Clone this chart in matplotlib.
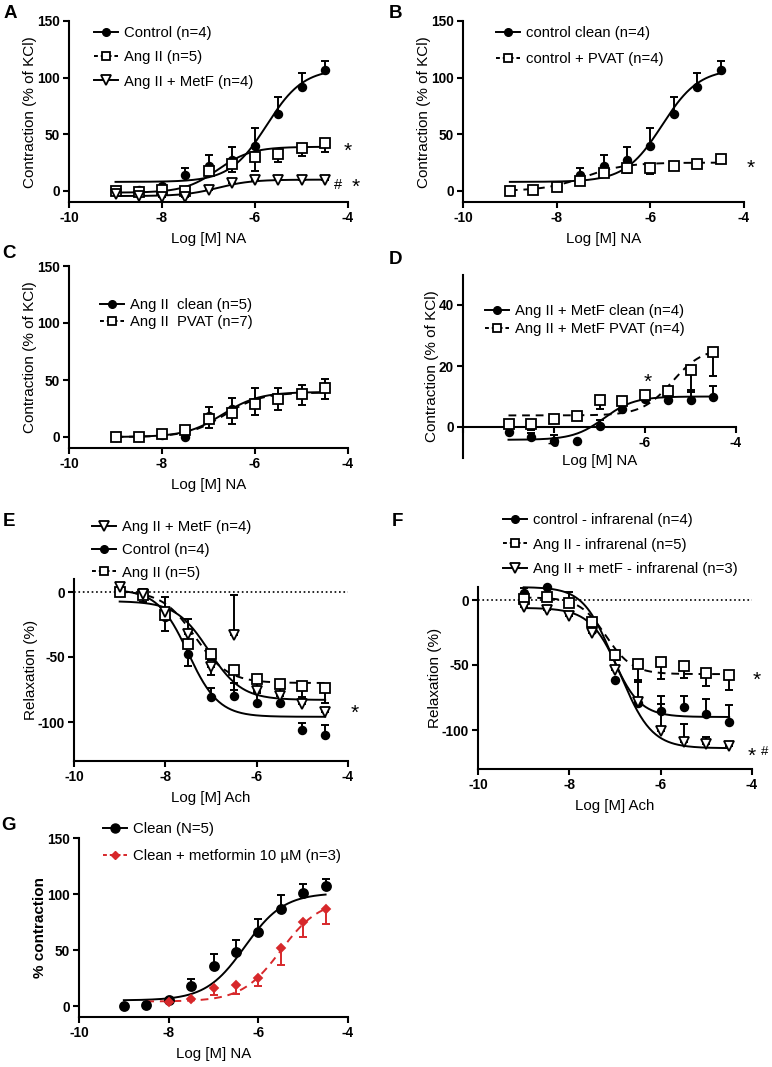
import numpy as np
import matplotlib.pyplot as plt
from matplotlib.lines import Line2D

plt.rcParams['font.family'] = ['Liberation Sans', 'DejaVu Sans']
plt.rcParams['axes.unicode_minus'] = False

# log concentrations used in every panel
logx = [-9, -8.5, -8, -7.5, -7, -6.5, -6, -5.5, -5, -4.5]

# A / B: NA contraction, control clean
ctrl = [0, 0.5, 4, 14, 22, 27, 40, 68, 92, 107]
ctrl_up = [0, 0, 0, 6, 10, 12, 16, 15, 12, 8]
ctrl_fit = [8, 108, -5.75, 1.1]
# A: Ang II and Ang II + MetF
a_ang = [0, -1, 0.5, 0, 18, 24, 30, 33, 38, 42]
a_ang_lo = [0, 0, 0, 0, 3, 7, 12, 7, 7, 8]
a_ang_fit = [-1.5, 39, -6.8, 1.2]
a_met = [-2.5, -4, -5, -5, 0.5, 7, 10, 9.5, 10, 10]
a_met_fit = [-4.5, 10, -6.8, 1.2]
# B: control + PVAT
b_pvat = [0, 0.5, 3.5, 8.5, 16, 20, 20, 22, 23.5, 28]
b_pvat_lo = [0, 0, 0, 2, 2, 4, 5, 2, 3, 0]
b_pvat_fit = [0, 25, -7.4, 1.0]
# C: Ang II clean vs PVAT
c_clean = [0, 0, 2, 0, 18, 24.5, 31, 34, 38, 43]
c_clean_up = [0, 0, 0, 0, 8, 10, 12, 9, 8, 8]
c_clean_fit = [0, 39.5, -6.7, 1.1]
c_pvat = [0, 0, 2.5, 6.5, 15.5, 21, 29, 33.5, 38, 43]
c_pvat_lo = [0, 0, 0, 0, 7.5, 9.5, 10, 10, 10, 10]
c_pvat_fit = [0, 39, -6.65, 1.1]
# D: Ang II + MetF clean vs PVAT
d_clean = [-1.6, -3.4, -4.6, -4.6, 0.3, 6, 9.3, 8.7, 9, 9.8]
d_clean_up = [0, 1.5, 2, 0, 2, 1.5, 1.5, 1, 3, 3.6]
d_clean_fit = [-4.2, 10, -6.9, 1.3]
d_pvat = [1.1, 1.1, 2.7, 3.5, 9, 8.4, 10.4, 11.8, 18.6, 24.6]
d_pvat_lo = [0, 2, 1, 1, 3, 1, 1, 1.5, 7, 8]
d_pvat_fit = [3.8, 26, -5.4, 1.3]
# E: Ach relaxation
e_met = [4, -1.5, -15, -32, -58, -33, -76, -80, -86, -92]
e_met_up = [0, 4, 11, 11, 0, 30.5, 10, 6, 5, 0]
e_met_lo = [0, 0, 0, 0, 6, 0, 0, 0, 0, 0]
e_met_fit = [-7, -83, -7.05, 1.2]
e_ctrl = [0, -2.5, -19, -48, -81, -80, -85.5, -85.5, -106, -110]
e_ctrl_up = [0, 0, 0, 0, 7, 10, 8, 6, 5, 8]
e_ctrl_lo = [0, 0, 0, 9, 0, 0, 0, 0, 0, 0]
e_ctrl_fit = [2, -96, -7.5, 1.3]
e_ang = [0, -2.5, -18, -40, -48, -60, -67, -71, -72, -74]
e_ang_up = [0, 3, 0, 0, 0, 0, 0, 0, 0, 0]
e_ang_lo = [0, 5, 12, 0, 4, 15, 8, 8, 10, 11]
e_ang_fit = [1, -70, -7.35, 1.2]
# F: Ach relaxation, infrarenal
f_ctrl = [5.5, 10, -2, -23, -61.5, -79, -85, -82, -88, -94]
f_ctrl_up = [4, 0, 8, 0, 0, 0, 11, 8, 12, 13]
f_ctrl_fit = [10, -90, -7.1, 1.4]
f_ang = [1, 2.5, -2, -17, -42, -49, -48, -51, -56, -58]
f_ang_lo = [3, 0, 0, 3, 4, 14, 13, 9, 10, 11]
f_ang_fit = [2, -57, -7.2, 1.5]
f_met = [-5.6, -8, -12.5, -25.6, -54, -78.5, -101, -109, -111, -112]
f_met_up = [0, 0, 0, 0, 0, 17, 21, 14, 6, 0]
f_met_fit = [-6, -114, -6.85, 1.3]
# G: clean vs metformin
g_clean = [0, 1, 5, 18, 36, 48, 66, 87, 101, 107]
g_clean_up = [0, 0, 0, 6, 10, 11, 12, 12, 7.5, 6.5]
g_clean_fit = [5, 101, -6.3, 1.0]
g_met = [4, 6, 16.5, 19, 25, 52, 75, 87]
g_met_lo = [0, 0, 7, 8, 7, 15, 13, 14]
g_met_fit = [4, 95, -5.5, 1.0]

W, H = 772, 1067
fig = plt.figure(figsize=(W / 100, H / 100), dpi=100)
red = '#d7282b'
LBL = 10.8


def new_ax(left, right, top, bottom, ylim, yticks):
    ax = fig.add_axes([left / W, 1 - bottom / H, (right - left) / W, (bottom - top) / H])
    ax.set_xlim(-10, -4)
    ax.set_ylim(*ylim)
    ax.set_xticks([-10, -8, -6, -4])
    ax.set_yticks(yticks)
    for s in ['top', 'right']:
        ax.spines[s].set_visible(False)
    for s in ['left', 'bottom']:
        ax.spines[s].set_linewidth(1.5)
    ax.tick_params(width=1.5, length=4.5, labelsize=9.8, pad=2)
    for lab in ax.get_xticklabels() + ax.get_yticklabels():
        lab.set_fontweight('bold')
    return ax


def fit(ax, p, ls='-', color='k', x0=-9, x1=-4.5):
    xs = np.linspace(x0, x1, 200)
    ys = p[0] + (p[1] - p[0]) / (1 + 10 ** ((p[2] - xs) * p[3]))
    ax.plot(xs, ys, ls=ls, color=color, lw=1.4, zorder=2, clip_on=False)


def pts(ax, x, y, lo, hi, marker, ms, mfc, color='k'):
    lo = np.zeros(len(y)) if lo is None else np.array(lo, float)
    hi = np.zeros(len(y)) if hi is None else np.array(hi, float)
    ax.errorbar(x, y, yerr=[lo, hi], fmt='none', ecolor=color, elinewidth=1.4,
                capsize=3, capthick=1.4, clip_on=False, zorder=3)
    ax.plot(x, y, ls='none', marker=marker, ms=ms, mfc=mfc, mec=color, mew=1.3,
            clip_on=False, zorder=4)


def legend(ax, handles, labels, x, y, spacing):
    leg = ax.legend(handles, labels, loc='upper left', bbox_to_anchor=(x / W, 1 - y / H),
                    bbox_transform=fig.transFigure, frameon=False, borderpad=0, borderaxespad=0,
                    handlelength=1.6, handletextpad=0.45, labelspacing=spacing, fontsize=10.7)
    for h in leg.legend_handles:
        h.set_clip_on(False)


def labels(ax, xl, yl, yweight='normal'):
    ax.set_ylabel(yl, fontsize=11, fontweight=yweight, labelpad=0)
    ax.set_xlabel(xl, fontsize=LBL, labelpad=5)


h_circ = Line2D([], [], color='k', ls='-', marker='o', ms=5.5, lw=1.4)
h_sq = Line2D([], [], color='k', ls=(0, (2, 1.5)), marker='s', ms=6, mfc='white', mew=1.3, lw=1.4)
h_tri = Line2D([], [], color='k', ls='-', marker='v', ms=6.5, mfc='white', mew=1.3, lw=1.4)
h_red = Line2D([], [], color=red, ls=(0, (2, 1.5)), marker='D', ms=4, lw=1.4)

# ---- A
ax = new_ax(69, 348, 21, 202.3, (-10, 150), [0, 50, 100, 150])
fit(ax, ctrl_fit)
fit(ax, a_ang_fit)
fit(ax, a_met_fit)
pts(ax, logx, ctrl, None, ctrl_up, 'o', 5.5, 'k')
pts(ax, logx, a_ang, a_ang_lo, None, 's', 6.5, 'white')
pts(ax, logx, a_met, None, None, 'v', 6.5, 'white')
ax.text(-4.1, 35, '*', fontsize=15, ha='left', va='center')
ax.text(-4.3, 5, '#', fontsize=10.5, ha='left', va='center')
ax.text(-3.93, 3, '*', fontsize=15, ha='left', va='center')
labels(ax, 'Log [M] NA', 'Contraction (% of KCl)')
legend(ax, [h_circ, h_sq, h_tri], ['Control (n=4)', 'Ang II (n=5)', 'Ang II + MetF (n=4)'], 94, 26, 0.69)

# ---- B
ax = new_ax(463, 744, 21, 202.3, (-10, 150), [0, 50, 100, 150])
fit(ax, ctrl_fit)
fit(ax, b_pvat_fit, ls=(0, (4, 3)))
pts(ax, logx, ctrl, None, ctrl_up, 'o', 5.5, 'k')
pts(ax, logx, b_pvat, b_pvat_lo, None, 's', 6.5, 'white')
ax.text(-3.95, 20, '*', fontsize=15, ha='left', va='center')
labels(ax, 'Log [M] NA', 'Contraction (% of KCl)')
legend(ax, [h_circ, h_sq], ['control clean (n=4)', 'control + PVAT (n=4)'], 496, 26, 0.83)

# ---- C
ax = new_ax(69, 348, 266, 448.4, (-10, 150), [0, 50, 100, 150])
fit(ax, c_clean_fit)
fit(ax, c_pvat_fit, ls=(0, (4, 3)))
pts(ax, logx, c_clean, None, c_clean_up, 'o', 5.5, 'k')
pts(ax, logx, c_pvat, c_pvat_lo, None, 's', 6.5, 'white')
labels(ax, 'Log [M] NA', 'Contraction (% of KCl)')
legend(ax, [h_circ, h_sq], ['Ang II  clean (n=5)', 'Ang II  PVAT (n=7)'], 100, 298, 0.22)

# ---- D
ax = new_ax(463, 736, 274.5, 457.5, (-10, 50), [0, 20, 40])
ax.spines['bottom'].set_position(('data', 0))
ax.set_xticks([-10, -8, -6, -4], ['', '-8', '-6', '-4'], fontweight='bold')
fit(ax, d_clean_fit)
fit(ax, d_pvat_fit, ls=(0, (4, 3)))
pts(ax, logx, d_clean, None, d_clean_up, 'o', 5.5, 'k')
pts(ax, logx, d_pvat, d_pvat_lo, None, 's', 6.5, 'white')
ax.text(-5.95, 14.5, '*', fontsize=15, ha='center', va='center')
labels(ax, 'Log [M] NA', 'Contraction (% of KCl)')
ax.xaxis.set_label_coords(0.5, 0.02)
legend(ax, [h_circ, h_sq], ['Ang II + MetF clean (n=4)', 'Ang II + MetF PVAT (n=4)'], 485, 304, 0.25)

# ---- E
ax = new_ax(74, 348, 579, 761, (-130, 10), [0, -50, -100])
ax.axhline(0, ls=':', color='k', lw=1.2, zorder=1)
fit(ax, e_ctrl_fit)
fit(ax, e_met_fit)
fit(ax, e_ang_fit, ls=(0, (4, 3)))
pts(ax, logx, e_ctrl, e_ctrl_lo, e_ctrl_up, 'o', 5.5, 'k')
pts(ax, logx, e_ang, e_ang_lo, e_ang_up, 's', 6.5, 'white')
pts(ax, logx, e_met, e_met_lo, e_met_up, 'v', 6.5, 'white')
ax.text(-3.95, -93, '*', fontsize=15, ha='left', va='center')
labels(ax, 'Log [M] Ach', 'Relaxation (%)')
legend(ax, [h_tri, h_circ, h_sq], ['Ang II + MetF (n=4)', 'Control (n=4)', 'Ang II (n=5)'], 92, 520, 0.59)

# ---- F
ax = new_ax(478, 752, 587, 769, (-130, 10), [0, -50, -100])
ax.axhline(0, ls=':', color='k', lw=1.2, zorder=1)
fit(ax, f_ctrl_fit)
fit(ax, f_met_fit)
fit(ax, f_ang_fit, ls=(0, (4, 3)))
pts(ax, logx, f_ctrl, None, f_ctrl_up, 'o', 5.5, 'k')
pts(ax, logx, f_ang, f_ang_lo, None, 's', 6.5, 'white')
pts(ax, logx, f_met, None, f_met_up, 'v', 6.5, 'white')
ax.text(-3.98, -62, '*', fontsize=15, ha='left', va='center')
ax.text(-4.1, -120, '*', fontsize=15, ha='left', va='center')
ax.text(-3.8, -117, '#', fontsize=9.5, ha='left', va='center')
labels(ax, 'Log [M] Ach', 'Relaxation (%)')
legend(ax, [h_circ, h_sq, h_tri], ['control - infrarenal (n=4)', 'Ang II - infrarenal (n=5)',
                                   'Ang II + metF - infrarenal (n=3)'], 503, 513, 0.72)

# ---- G
ax = new_ax(79, 348, 838, 1017.2, (-10, 150), [0, 50, 100, 150])
fit(ax, g_clean_fit)
fit(ax, g_met_fit, ls=(0, (4, 3)), color=red, x0=-8.5)
pts(ax, logx, g_clean, None, g_clean_up, 'o', 6.5, 'k')
pts(ax, logx[2:], g_met, g_met_lo, None, 'D', 4, red, color=red)
labels(ax, 'Log [M] NA', '% contraction', 'bold')
legend(ax, [Line2D([], [], color='k', marker='o', ms=6.5, lw=1.4), h_red],
       ['Clean (N=5)', 'Clean + metformin 10 \u00b5M (n=3)'], 103, 822, 0.89)

for lab, x, y in [('A', 10, 13), ('B', 395, 13), ('C', 9, 254), ('D', 395, 259),
                  ('E', 9, 522), ('F', 397, 521), ('G', 8, 826)]:
    fig.text(x / W, 1 - y / H, lab, fontsize=13.5, fontweight='bold', ha='center', va='center')

fig.savefig('out.png', dpi=100)
